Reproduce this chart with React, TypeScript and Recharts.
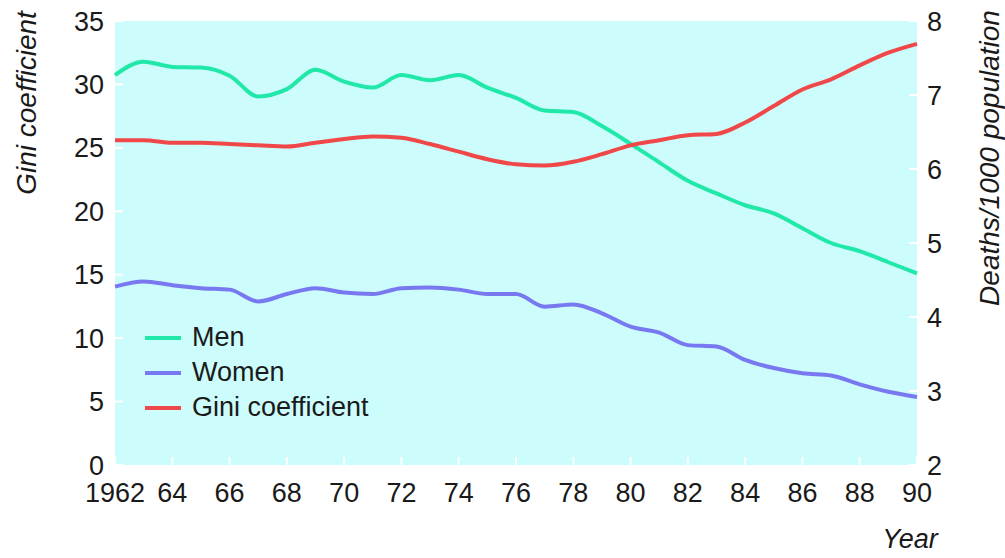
import { LineChart, Line, XAxis, YAxis, CartesianGrid, Legend } from "recharts";

const years = [
  1962, 1963, 1964, 1965, 1966, 1967, 1968, 1969, 1970, 1971, 1972, 1973, 1974, 1975, 1976,
  1977, 1978, 1979, 1980, 1981, 1982, 1983, 1984, 1985, 1986, 1987, 1988, 1989, 1990,
];

// deaths/1000 population (right axis)
const men = [
  7.27, 7.45, 7.38, 7.37, 7.26, 6.98, 7.08, 7.34, 7.18, 7.1, 7.27, 7.2, 7.27, 7.1, 6.96,
  6.79, 6.77, 6.58, 6.34, 6.09, 5.84, 5.67, 5.51, 5.4, 5.2, 5.0, 4.89, 4.74, 4.59,
];
const women = [
  4.41, 4.48, 4.43, 4.39, 4.37, 4.21, 4.31, 4.39, 4.33, 4.31, 4.39, 4.4, 4.37, 4.31, 4.31,
  4.14, 4.17, 4.05, 3.87, 3.79, 3.62, 3.6, 3.42, 3.31, 3.24, 3.21, 3.09, 2.99, 2.92,
];

// gini coefficient (left axis)
const gini = [
  25.6, 25.6, 25.4, 25.4, 25.3, 25.2, 25.1, 25.4, 25.7, 25.9, 25.8, 25.3, 24.7, 24.1, 23.7,
  23.6, 23.9, 24.5, 25.2, 25.6, 26.0, 26.1, 27.0, 28.3, 29.6, 30.4, 31.5, 32.5, 33.2,
];

const xTicks = [1962, 1964, 1966, 1968, 1970, 1972, 1974, 1976, 1978, 1980, 1982, 1984, 1986, 1988, 1990];
const leftTicks = [0, 5, 10, 15, 20, 25, 30, 35];
const rightTicks = [2, 3, 4, 5, 6, 7, 8];
const legendOrder = ["Men", "Women", "Gini coefficient"];

const data = years.map((year, i) => ({
  year,
  men: men[i],
  women: women[i],
  gini: gini[i],
}));

const font = "'Liberation Sans', Arial, sans-serif";
const tickStyle = { fontSize: 27, fill: "#1a1a1a", fontFamily: font };

const renderLegend = (props: any) => {
  const items = [...(props.payload || [])].sort(
    (a: any, b: any) => legendOrder.indexOf(a.value) - legendOrder.indexOf(b.value)
  );
  return (
    <div>
      {items.map((item: any) => (
        <div key={item.value} style={{ display: "flex", alignItems: "center", height: 35 }}>
          <span style={{ width: 36, height: 4, background: item.color, marginRight: 11 }} />
          <span style={{ fontSize: 27, color: "#1a1a1a", fontFamily: font, lineHeight: 1 }}>
            {item.value}
          </span>
        </div>
      ))}
    </div>
  );
};

const titleStyle = {
  position: "absolute" as const,
  fontFamily: font,
  fontStyle: "italic",
  fontSize: 28,
  lineHeight: 1,
  color: "#1a1a1a",
  whiteSpace: "nowrap" as const,
};

export default function App() {
  return (
    <div
      style={{
        position: "absolute",
        left: 0,
        top: 0,
        width: 1005,
        height: 558,
        background: "#fff",
        fontFamily: font,
        overflow: "hidden",
      }}
    >
      <LineChart
        width={1005}
        height={558}
        data={data}
        margin={{ top: 21, right: 0, bottom: 0, left: 0 }}
      >
        <CartesianGrid horizontal={false} vertical={false} fill="#ccfcfc" />
        <XAxis
          dataKey="year"
          type="number"
          domain={[1962, 1990]}
          ticks={xTicks}
          interval={0}
          height={93}
          axisLine={false}
          tickLine={{ stroke: "#fff", strokeWidth: 2 }}
          tickSize={-8}
          tickMargin={26}
          tick={tickStyle}
          tickFormatter={(v: number) => (v === 1962 ? "1962" : String(v % 100))}
        />
        <YAxis
          yAxisId="left"
          orientation="left"
          domain={[0, 35]}
          ticks={leftTicks}
          interval={0}
          width={115}
          axisLine={false}
          tickLine={{ stroke: "#fff", strokeWidth: 2 }}
          tickSize={-8}
          tickMargin={19}
          tick={tickStyle}
        />
        <YAxis
          yAxisId="right"
          orientation="right"
          domain={[2, 8]}
          ticks={rightTicks}
          interval={0}
          width={88}
          axisLine={false}
          tickLine={{ stroke: "#fff", strokeWidth: 2 }}
          tickSize={-8}
          tickMargin={18}
          tick={tickStyle}
        />
        <Legend
          layout="vertical"
          align="center"
          verticalAlign="middle"
          content={renderLegend}
          wrapperStyle={{ left: 145, top: 320, width: "auto" }}
        />
        <Line
          yAxisId="right"
          dataKey="men"
          name="Men"
          type="monotone"
          stroke="#20e8a8"
          strokeWidth={4}
          dot={false}
          isAnimationActive={false}
        />
        <Line
          yAxisId="right"
          dataKey="women"
          name="Women"
          type="monotone"
          stroke="#7878f0"
          strokeWidth={4}
          dot={false}
          isAnimationActive={false}
        />
        <Line
          yAxisId="left"
          dataKey="gini"
          name="Gini coefficient"
          type="monotone"
          stroke="#f04848"
          strokeWidth={4}
          dot={false}
          isAnimationActive={false}
        />
      </LineChart>
      <div style={{ ...titleStyle, left: 27, top: 103, transform: "translate(-50%, -50%) rotate(-90deg)" }}>
        Gini coefficient
      </div>
      <div style={{ ...titleStyle, left: 990, top: 158, transform: "translate(-50%, -50%) rotate(-90deg)" }}>
        Deaths/1000 population
      </div>
      <div style={{ ...titleStyle, fontSize: 27, left: 910, top: 526, transform: "translateX(-50%)" }}>
        Year
      </div>
    </div>
  );
}
